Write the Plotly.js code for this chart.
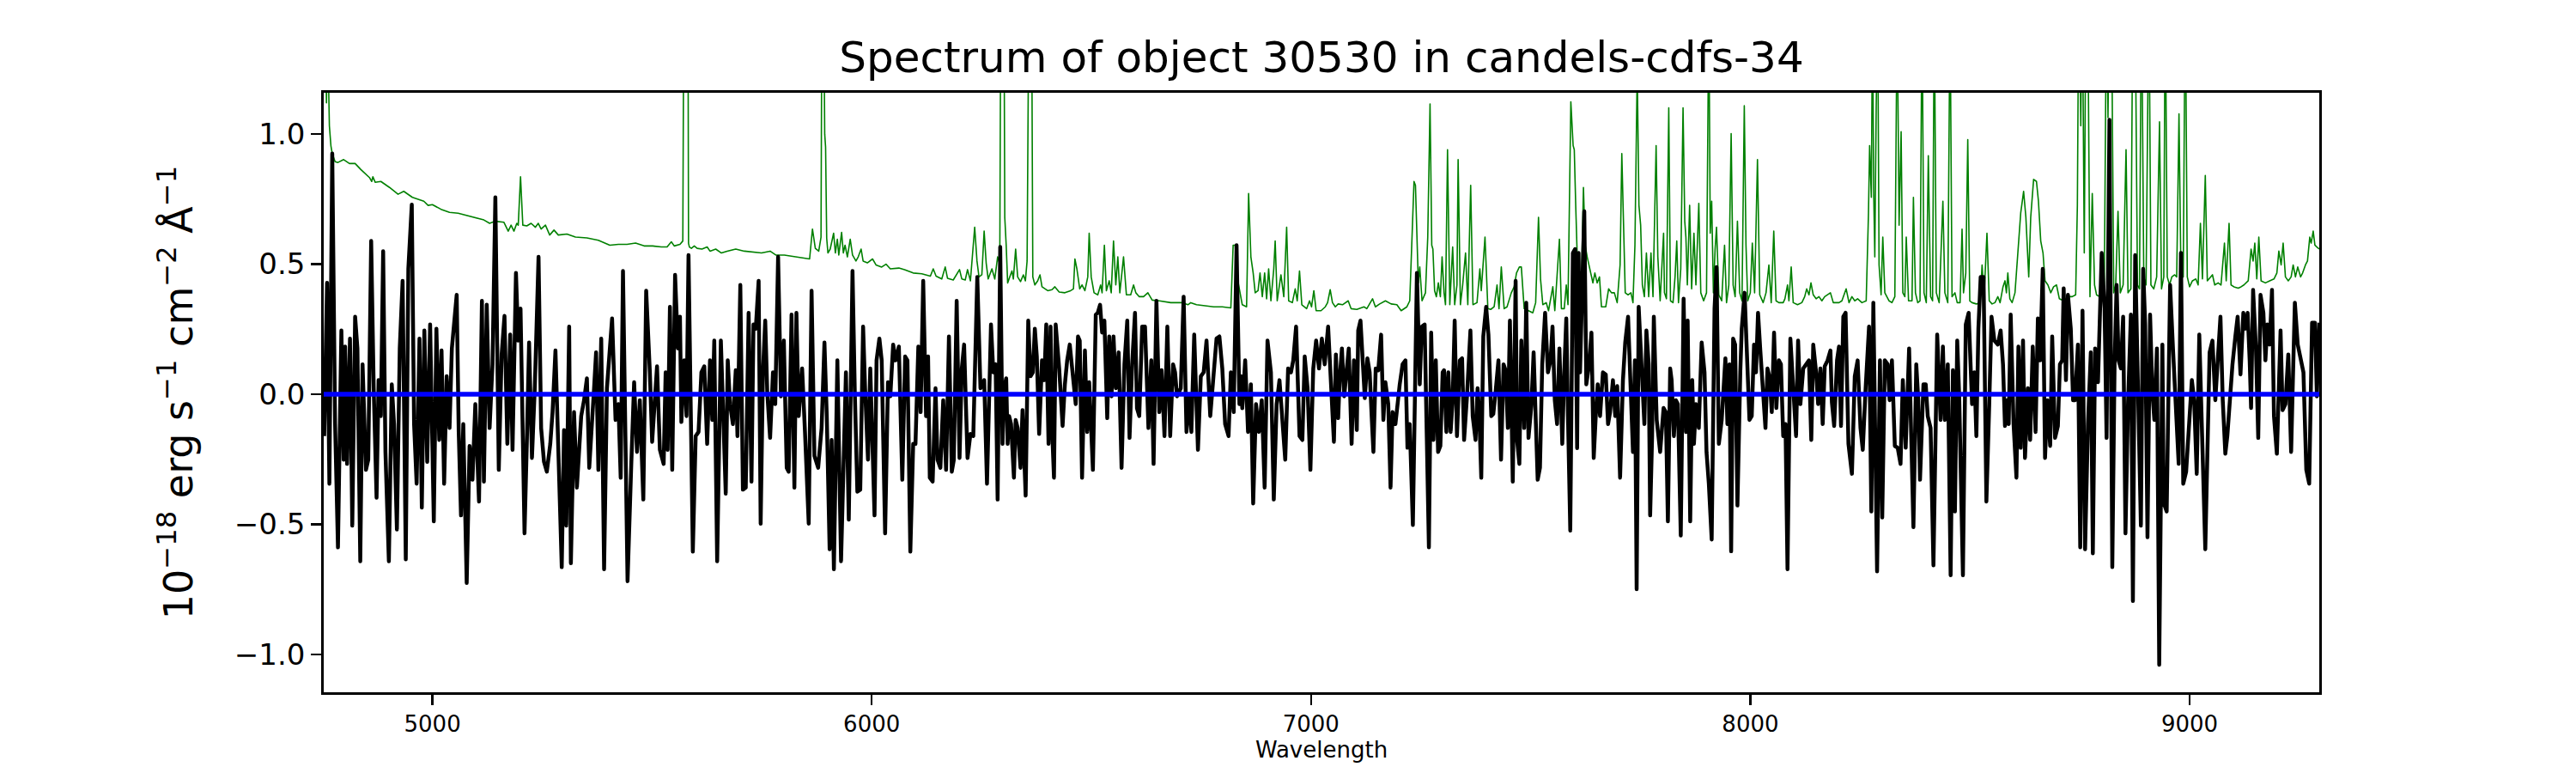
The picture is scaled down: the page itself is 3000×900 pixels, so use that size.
<!DOCTYPE html>
<html>
<head>
<meta charset="utf-8">
<script src="https://cdn.plot.ly/plotly-3.0.1.min.js"></script>
<style>
  html, body { margin: 0; padding: 0; background: #ffffff; }
  #chart { width: 3000px; height: 900px; }
  .js-line { stroke-linejoin: round; }
</style>
</head>
<body>
<div id="chart"></div>
<script>
// ---- Data ----
const titleText = "Spectrum of object 30530 in candels-cdfs-34";
const xLabel = "Wavelength";
const yLabel = "10<sup>\u221218</sup> erg s<sup>\u22121</sup> cm<sup>\u22122</sup> \u00C5<sup>\u22121</sup>";
const xTicks = [5000, 6000, 7000, 8000, 9000];
const yTicks = [-1.0, -0.5, 0.0, 0.5, 1.0];

// observed flux (black)
const fluxWave = [
4753.7,4760.2,4765.5,4772.0,4778.5,4785.0,4792.8,4798.0,4801.3,4805.8,4812.4,4817.6,4824.1,4829.3,4835.8,4841.0,4848.8,4854.0,4860.6,4866.4,
4872.9,4877.5,4882.7,4887.9,4893.1,4900.9,4907.5,4912.7,4919.2,4925.7,4932.2,4939.4,4945.2,4953.1,4958.3,4964.1,4970.6,4975.9,4981.7,4988.2,
4994.8,5003.2,5009.1,5015.6,5020.8,5026.7,5032.5,5039.0,5044.3,5055.3,5059.9,5065.1,5070.3,5078.1,5084.6,5091.2,5097.7,5106.1,5112.7,5117.2,
5123.7,5130.2,5136.8,5143.3,5151.1,5157.6,5164.1,5170.6,5177.1,5182.4,5190.2,5195.4,5200.6,5209.7,5214.9,5220.1,5226.6,5233.2,5241.6,5247.5,
5254.0,5260.5,5268.3,5273.5,5280.1,5286.6,5294.4,5299.6,5304.8,5311.3,5315.2,5322.4,5328.9,5338.7,5345.2,5351.7,5357.0,5368.0,5372.6,5377.8,
5384.3,5390.8,5397.3,5409.0,5416.9,5423.4,5428.6,5433.8,5444.2,5452.7,5459.2,5465.7,5472.2,5480.1,5486.6,5495.0,5500.2,5511.3,5517.8,
5526.4,5530.9,5535.5,5540.7,5545.9,5552.4,5558.9,5563.5,5566.7,5573.3,5578.5,5583.0,5592.8,5599.3,5605.8,5612.3,5618.9,5625.4,5631.9,5637.1,
5641.6,5648.2,5656.6,5661.8,5667.7,5672.3,5677.5,5684.0,5690.5,5694.4,5700.9,5706.8,5713.3,5719.8,5726.3,5730.9,5736.1,5742.6,5747.2,5752.4,
5757.6,5762.2,5768.7,5775.2,5780.4,5786.9,5793.4,5800.0,5806.5,5811.0,5817.5,5824.0,5828.6,5833.8,5841.6,5848.1,5856.6,5863.1,5869.6,5878.1,
5885.9,5892.4,5897.7,5904.2,5908.7,5913.9,5921.8,5930.2,5934.8,5941.3,5947.8,5956.3,5961.5,5967.3,5973.9,5980.4,5984.9,5991.5,5996.7,6006.4,
6011.0,6017.5,6022.7,6030.5,6037.0,6042.3,6048.8,6054.0,6061.8,6069.6,6076.1,6081.3,6087.9,6094.4,6099.6,6106.1,6111.3,6117.2,6123.7,6128.3,
6132.2,6138.7,6145.2,6149.8,6156.3,6162.8,6169.3,6175.8,6182.3,6186.9,6193.4,6199.9,6205.1,6210.3,6218.1,6224.7,6231.2,6240.3,6247.5,6256.0,
6262.4,6271.5,6276.8,6282.0,
6286.6,6292.5,6297.7,6301.6,6306.1,6309.4,6312.7,6317.2,6323.7,6327.6,6332.2,6338.7,6343.3,6350.4,6356.3,6361.5,6366.7,6371.3,6375.8,6381.1,
6387.6,6392.8,6397.3,6402.5,6407.1,6411.0,6414.9,6418.8,6426.7,6434.5,6439.7,6444.9,6450.8,6457.9,6464.4,6469.6,6473.5,6478.8,6485.3,6490.5,
6495.0,6503.5,6510.0,6514.6,6519.8,6524.4,6529.6,6536.1,6540.6,6545.9,6550.4,6555.6,6562.1,6568.7,6575.2,6581.7,6586.9,6592.8,6599.3,6603.8,
6609.0,6615.6,6622.1,6629.9,6636.4,6641.6,6648.1,6654.6,6659.9,6666.4,6672.9,6679.4,6685.9,6690.5,6695.0,6703.5,6710.0,6716.5,6723.0,6727.6,
6734.1,6742.6,6749.1,6755.6,6762.1,6770.6,6778.4,6784.9,6791.4,6798.0,6804.5,6812.3,6817.5,6824.0,6830.5,6837.0,6840.3,6843.5,6850.1,6856.6,
6863.1,6868.3,6874.8,6881.3,6887.8,6894.4,6900.9,6908.7,6915.2,6921.7,6928.2,6934.7,6941.3,6947.8,6954.3,6959.5,6966.0,6973.8,6980.3,6985.6,
6992.1,6998.6,7005.1,7011.6,7018.1,7024.6,7031.1,7038.9,
7047.5,7052.1,7056.6,7061.8,7065.1,7070.3,7075.5,7080.7,7085.9,7092.4,7097.7,7104.2,7107.4,7112.6,7117.2,7122.4,7128.3,7133.5,7138.0,7142.0,
7147.2,7153.0,7159.5,7164.7,7169.3,7175.8,7181.0,7185.6,7192.1,7196.7,7201.9,7208.4,7214.9,7219.5,7224.7,7231.8,7237.7,7241.0,7247.5,7252.0,
7258.6,7262.5,7268.3,7273.5,7278.7,7284.0,7289.2,7294.4,7299.6,7302.8,7308.1,7312.6,7317.8,7322.4,7327.0,7332.2,7338.7,7343.9,7348.4,7355.0,
7362.8,7368.0,7374.5,7379.1,7383.0,7387.5,7392.1,7398.6,7403.8,7410.3,7414.9,7420.1,7426.6,7432.5,7438.3,7442.9,7448.1,7452.7,7459.2,7465.7,
7469.0,7474.2,7478.7,7485.2,7489.8,7495.0,7501.5,7506.7,7511.3,7515.9,7521.1,7526.3,7532.8,7539.3,7545.2,7549.7,7554.9,7560.1,7565.4,7571.9,
7576.4,7581.0,7584.9,7590.1,7596.0,7601.2,7605.7,7609.0,7612.3,7617.5,7622.0,7626.6,7633.1,7638.3,7643.5,7648.1,7652.6,7657.9,7664.4,7670.9,
7676.1,7680.7,7687.2,7692.4,7696.9,7703.5,7710.0,7715.2,7721.7,7728.2,7732.8,7737.3,7741.2,7745.8,7752.3,7758.8,7763.4,7768.6,7771.9,7776.4,
7780.3,7786.8,7794.7,
7802.5,7807.7,7812.3,7817.5,7820.8,7826.0,7830.5,7835.1,7841.6,7848.1,7853.6,7857.3,7863.1,7867.7,7871.6,7876.1,7882.7,7889.2,7895.7,7900.2,
7905.5,7912.0,7918.5,7923.0,7928.3,7934.8,7939.3,7943.2,7947.8,7952.4,7956.3,7960.8,7965.4,7970.6,7977.1,7980.4,7986.9,7993.4,7998.0,8003.2,
8008.4,8012.9,8017.5,8022.7,8027.9,8034.4,8039.0,8044.2,8048.8,8054.0,8059.2,8065.0,8069.6,8074.8,8080.0,8084.6,8091.1,8097.6,8104.1,8108.7,
8113.9,8120.4,8126.9,8133.4,8138.7,8143.2,8149.7,8154.3,8159.5,8164.7,8169.3,8175.8,8182.3,8185.6,8190.8,8197.3,8201.8,8206.4,8211.6,8216.8,
8223.3,8231.2,8237.7,8244.2,8250.7,8255.9,8262.4,8270.2,8275.4,8280.0,8288.5,8295.0,8300.2,8306.1,8312.6,8317.1,8322.3,8328.9,8335.4,8341.9,
8347.1,8353.6,8361.4,8366.6,8371.2,8377.7,8382.3,8386.2,8394.0,8399.2,8403.8,8410.3,8416.8,8425.3,8433.1,8438.3,8442.8,8449.4,8455.9,8461.1,
8465.7,8470.9,8475.4,8483.9,8490.4,8496.9,8504.7,8509.9,8514.5,8519.1,8524.3,8530.8,8537.3,8543.8,8549.0,8555.5,8563.4,8569.8,8575.1,
8579.6,8584.2,8588.1,8592.6,8599.2,8605.7,8610.2,8615.4,8620.7,8625.2,8631.7,8636.9,8642.8,8649.3,8654.5,8659.7,8665.6,8670.8,8676.0,8682.5,
8687.1,8693.6,8700.1,8704.7,8709.9,8713.2,8718.4,8722.9,8729.4,8734.6,8739.2,8745.7,8750.9,8756.1,8762.0,8768.5,8775.0,8779.6,8784.8,8791.3,
8799.8,8806.3,8810.9,8817.4,8823.9,8829.1,8833.7,8838.2,8843.4,8848.6,8853.9,8859.7,8866.2,8870.8,8876.0,8882.5,8889.0,8894.2,8898.8,8904.0,
8909.9,8915.1,8919.6,8925.5,8930.7,8937.9,8941.1,8947.7,8955.5,8962.0,8967.2,8975.0,8980.2,8985.4,8992.0,8998.5,9005.0,9010.2,9016.1,9021.9,
9027.1,9035.6,9045.4,9051.9,9058.4,9064.9,9070.1,9075.3,9081.2,9085.7,9090.9,9097.5,9104.0,9109.2,9115.7,9122.2,9126.8,9132.0,9136.6,9139.8,
9144.4,9150.9,9156.1,9161.3,9167.8,9172.4,9176.9,9182.2,9187.4,9191.9,9198.5,9206.9,9211.5,9218.0,9224.5,9231.0,9234.3,9239.5,9246.0,9252.5,
9259.0,9265.5,9272.1,9278.6,9285.1,9289.6,9295.0
];
const fluxValue = [
-0.161,0.428,-0.344,0.925,-0.115,-0.589,0.245,-0.252,0.183,-0.268,0.214,-0.505,0.298,0.176,-0.642,0.115,-0.291,-0.252,0.589,0.023,
-0.398,0.054,-0.084,0.550,-0.222,-0.642,0.038,-0.115,-0.520,0.176,0.436,-0.635,0.482,0.729,-0.115,-0.344,0.214,-0.436,0.245,-0.260,
0.268,-0.489,0.252,-0.176,0.168,-0.344,0.069,-0.130,0.176,0.382,-0.145,-0.466,-0.115,-0.726,-0.199,-0.329,-0.038,-0.413,0.359,-0.336,
0.344,-0.130,0.115,0.757,-0.291,0.153,0.301,-0.191,0.229,-0.214,0.466,0.206,0.329,-0.535,-0.191,0.199,-0.245,0.031,0.528,-0.130,
-0.260,-0.298,-0.191,-0.069,0.168,-0.191,-0.665,-0.138,-0.505,0.260,-0.650,-0.069,-0.359,-0.084,-0.023,0.061,-0.283,0.023,0.161,-0.291,
0.214,-0.673,0.023,0.291,-0.099,-0.038,-0.321,0.474,-0.719,-0.268,0.046,-0.222,-0.023,-0.405,0.398,0.084,-0.183,0.107,-0.214,
-0.268,0.084,-0.214,0.336,-0.291,0.459,0.176,0.298,-0.107,0.130,-0.084,0.535,-0.605,-0.161,-0.145,0.084,0.107,-0.191,0.130,-0.099,
0.206,-0.642,0.206,-0.130,-0.382,0.130,-0.038,-0.115,0.092,-0.161,0.420,-0.367,-0.359,0.313,-0.336,0.268,0.252,0.436,-0.498,0.084,
0.283,0.008,-0.168,0.084,-0.038,0.528,-0.008,0.206,-0.283,-0.298,0.306,-0.359,0.313,-0.084,0.099,-0.145,-0.498,0.398,-0.237,-0.283,
-0.130,0.199,-0.084,-0.596,-0.176,-0.673,0.130,-0.642,-0.283,0.084,-0.482,0.474,0.008,-0.375,-0.367,0.260,0.023,-0.252,0.099,-0.466,
0.130,0.214,0.130,-0.535,0.046,-0.008,0.191,0.130,0.183,-0.329,0.145,0.130,-0.605,-0.191,-0.191,0.183,-0.069,0.436,-0.084,0.145,
-0.321,-0.336,0.023,-0.252,-0.283,-0.023,-0.291,0.222,-0.298,-0.252,0.359,-0.245,0.099,0.191,-0.245,-0.153,-0.161,0.451,0.023,0.054,
-0.344,0.268,0.084,0.115,
-0.405,0.566,-0.191,0.023,0.061,-0.191,-0.084,-0.115,-0.321,-0.099,-0.130,-0.283,-0.061,-0.390,0.283,0.069,0.084,0.252,0.145,-0.153,
0.130,0.054,0.268,-0.191,0.260,-0.153,-0.321,0.268,0.099,-0.122,0.038,0.130,0.191,0.084,-0.038,0.222,0.206,-0.321,0.168,-0.145,
0.046,-0.291,0.306,0.313,0.344,0.237,0.283,-0.092,0.222,-0.008,0.222,0.023,0.161,-0.283,0.115,0.283,-0.168,0.115,0.313,-0.054,
-0.084,0.260,0.260,-0.130,0.130,-0.268,0.359,-0.069,0.092,-0.161,0.260,-0.161,0.115,0.084,-0.008,0.023,0.375,-0.145,-0.008,-0.145,
0.229,-0.214,0.069,0.084,0.206,-0.084,0.069,0.214,0.222,0.099,-0.115,-0.161,0.084,-0.069,0.573,-0.038,0.069,-0.054,0.130,-0.145,
0.038,-0.420,-0.038,-0.145,-0.023,-0.359,0.206,0.084,-0.405,-0.038,0.054,-0.084,-0.252,0.099,0.084,0.130,0.260,-0.161,-0.176,0.145,
0.023,-0.291,0.099,0.206,0.099,0.214,0.115,0.260,
-0.084,-0.183,0.153,-0.092,0.054,0.176,-0.008,0.084,0.176,-0.191,0.130,-0.138,0.245,0.283,0.130,-0.015,0.138,0.084,-0.084,-0.222,
0.099,0.092,0.229,-0.099,0.046,-0.038,-0.359,-0.069,-0.115,-0.023,0.038,0.115,0.130,-0.206,-0.115,-0.503,0.176,0.466,0.038,0.260,
0.268,-0.038,-0.589,0.237,-0.176,0.130,-0.222,-0.199,0.084,0.092,-0.145,0.084,-0.145,-0.023,0.283,-0.161,0.130,0.138,-0.176,-0.008,
0.245,-0.084,-0.176,0.023,-0.076,-0.321,0.222,0.336,0.229,-0.084,-0.076,0.008,0.130,-0.252,0.115,0.092,-0.130,0.283,-0.336,0.436,
-0.176,-0.268,0.206,-0.130,0.352,-0.168,-0.046,0.161,-0.130,-0.329,-0.283,0.115,0.313,0.084,0.130,0.260,-0.023,-0.115,0.176,-0.191,
0.084,0.291,-0.084,-0.524,0.543,0.558,-0.207,0.543,0.084,0.489,0.703,0.038,0.115,0.237,-0.245,-0.084,0.038,-0.084,0.084,0.076,
-0.115,-0.069,0.054,-0.084,0.031,-0.321,0.054,0.199,0.298,-0.008,-0.222,0.130,-0.750,0.336,0.130,-0.115,0.245,0.115,-0.466,-0.161,
0.298,-0.099,-0.222,
-0.053,-0.069,-0.489,0.099,0.054,-0.161,-0.023,-0.038,-0.543,0.367,-0.145,0.283,-0.489,0.054,-0.191,-0.038,-0.130,0.199,0.084,-0.222,
-0.344,-0.559,0.329,0.489,-0.191,-0.099,0.069,0.138,-0.115,0.115,-0.604,0.214,0.191,-0.428,0.084,0.252,0.390,0.115,-0.099,-0.084,
0.191,0.084,0.313,0.168,0.054,-0.130,0.099,0.061,-0.069,0.237,-0.053,0.130,0.115,-0.161,-0.115,-0.673,0.214,-0.008,-0.161,0.206,
-0.038,0.099,0.115,0.130,-0.176,0.191,0.084,-0.038,0.099,-0.115,0.107,0.130,0.168,-0.031,-0.122,0.130,0.183,-0.122,0.298,0.313,
-0.191,-0.306,0.069,0.130,-0.130,-0.214,0.023,0.260,-0.451,0.352,-0.681,0.130,-0.474,0.130,0.115,-0.023,0.130,-0.199,-0.206,-0.268,
0.054,-0.206,0.176,-0.283,-0.511,0.115,-0.023,-0.329,0.038,0.038,-0.084,-0.130,-0.658,0.229,-0.099,0.183,-0.099,0.115,-0.696,0.092,
-0.451,0.206,-0.008,-0.696,0.268,0.313,-0.038,0.084,-0.161,0.252,0.451,0.451,-0.413,-0.038,0.298,0.206,0.191,0.245,0.115,
-0.122,-0.023,-0.115,0.306,-0.115,-0.321,0.183,-0.206,0.206,-0.245,0.023,-0.176,0.183,-0.145,0.291,0.130,0.482,-0.245,-0.023,-0.199,
0.222,-0.168,-0.122,0.115,0.130,0.407,0.054,0.382,0.252,-0.023,-0.023,0.191,-0.589,0.321,-0.596,-0.115,0.161,-0.612,0.176,0.046,
0.543,0.329,-0.168,1.055,-0.665,0.115,0.420,0.130,0.099,0.298,-0.535,-0.038,0.306,-0.795,0.535,0.046,-0.505,0.482,0.268,-0.550,
0.306,0.008,-0.099,0.176,-1.040,0.191,-0.419,-0.451,0.420,0.176,0.008,-0.268,0.543,-0.344,-0.298,-0.099,0.054,-0.023,-0.306,0.229,
-0.130,-0.596,0.161,0.206,-0.023,0.176,0.298,-0.023,-0.229,-0.161,-0.023,0.115,0.222,0.298,0.076,0.313,0.252,0.313,0.130,-0.053,
0.401,0.176,-0.168,0.382,0.313,0.130,0.268,0.191,0.401,-0.084,-0.229,0.245,-0.061,-0.038,0.153,-0.222,0.008,0.352,0.191,0.130,
0.084,-0.291,-0.344,0.275,0.275,-0.008,0.275
];

// flux uncertainty / sky (green)
const errWave = [
4752.6,4756.5,4758.9,4760.5,4762.5,4765.5,4769.0,4772.0,4778.5,4785.0,4798.0,4811.1,4824.1,4837.1,4856.7,4861.9,4864.5,4869.7,4882.7,4902.3,
4921.8,4934.8,4954.4,4964.1,4980.4,4990.2,5000.0,5019.5,5039.0,5058.6,5078.1,5097.7,5117.2,5130.2,5143.3,5162.8,5172.6,5179.1,5185.6,5192.1,
5195.4,5200.6,5205.8,5214.9,5224.7,5234.5,5241.0,5247.5,5257.3,5267.0,5276.8,5286.6,5306.1,5325.7,5351.7,5377.8,5403.8,5423.4,5442.9,5462.5,
5482.0,5501.5,
5521.1,5534.2,5543.9,5550.5,5563.5,5570.0,5573.3,5577.0,5580.5,5583.0,5585.0,5589.5,5596.1,5602.6,5613.6,5625.4,5631.9,5644.9,5657.9,5670.9,
5690.5,5710.0,5729.6,5749.1,5768.7,5781.7,5801.2,5827.3,5858.6,5865.1,5871.6,5879.4,5884.6,5888.0,5891.0,5893.0,5895.0,5897.5,5900.3,5905.5,
5913.3,5917.2,5921.8,5925.0,5931.5,5935.4,5939.3,5944.6,5951.1,5956.3,5964.1,5969.3,5975.8,5980.4,5990.1,6001.9,6009.7,6022.7,6032.5,6042.3,
6061.8,6074.8,6094.4,6113.9,6133.5,6140.0,6146.5,6159.5,6167.3,6172.5,6185.6,6199.9,6205.1,6212.9,6218.1,6224.7,6234.4,6239.6,6244.2,6250.7,
6255.9,6260.5,6265.1,
6267.1,6273.6,6280.1,6286.6,6291.5,6293.5,6297.0,6300.0,6302.9,6306.1,6309.4,6315.9,6319.2,6322.4,6327.6,6332.2,6338.7,6345.2,6349.8,6353.7,
6357.5,6361.5,6364.8,6366.7,6371.3,6377.8,6383.0,6387.6,6400.6,6410.4,6416.9,6426.7,6439.7,6452.7,6459.2,6462.5,6467.0,6473.5,6478.8,6485.3,
6491.8,6495.0,6499.6,6506.1,6514.6,6521.1,6524.4,6529.6,6534.1,6540.6,6545.2,6550.4,6555.6,6560.2,6564.8,6573.2,6579.7,6589.5,6596.0,6601.2,
6609.0,6618.8,6628.6,6638.4,6654.6,6667.7,6680.7,6693.7,6706.8,6719.8,6726.3,6739.3,6758.9,6778.4,6798.0,6817.5,6822.7,6827.3,6831.8,6837.0,
6843.5,6853.3,6857.9,6863.1,6868.3,6872.9,6879.4,6883.9,6889.1,6894.4,6898.9,6903.5,6908.7,6915.2,6918.4,6923.0,6931.5,6938.0,6944.5,6949.1,
6957.5,6964.0,6968.6,6973.8,6979.0,6990.1,6996.6,7001.2,7006.4,7011.6,7022.7,
7032.5,7037.7,7043.6,7048.8,7055.3,7061.8,7071.6,7084.6,7091.1,7104.2,7120.5,7127.0,7140.0,7146.5,7156.3,7169.3,7182.3,7195.4,7205.1,7218.2,
7224.7,7229.2,7234.4,7237.7,7241.0,7244.2,7247.5,7252.7,7260.5,7265.7,7270.9,7274.8,7277.4,7281.3,7285.3,7289.8,7294.4,7298.3,7302.8,7306.1,
7310.7,7315.9,7322.4,7327.0,7332.2,7334.8,7340.0,7345.2,7351.7,7356.9,7363.4,7368.6,7377.8,7384.3,7387.5,7396.0,7402.5,7409.0,7416.8,7423.4,
7427.9,7433.1,7439.6,7446.2,7455.9,7462.4,7467.7,7474.2,7478.7,7485.2,7495.0,7504.8,7511.3,7517.8,7522.4,7527.6,7535.4,7540.6,7550.4,7554.9,
7565.4,7569.9,7576.4,7581.0,7584.9,7591.4,7596.6,7599.2,7602.5,7605.7,7611.0,7615.5,7620.1,7624.0,7628.6,7635.1,7641.6,7646.1,7651.3,7656.6,
7661.1,7670.9,7677.4,7683.9,7690.4,7696.9,7703.5,7707.4,7711.3,7715.2,7721.7,7728.2,7732.8,7737.3,7742.5,7746.4,7750.3,7754.2,7758.8,7763.4,
7768.6,7773.8,7778.4,7785.5,7789.4,7794.7,7802.5,
7804.5,7809.0,7814.3,7818.2,7824.0,7828.6,7832.5,7836.4,7841.6,7846.8,7850.7,7853.3,7856.6,7861.8,7866.4,7871.6,7876.1,7882.7,7887.2,7893.7,
7900.2,7905.5,7908.7,7912.0,7915.9,7919.8,7923.0,7928.3,7934.8,7941.3,7945.8,7951.0,7956.3,7960.8,7965.4,7970.6,7975.8,7981.0,7986.2,7990.1,
7994.0,7999.9,8004.5,8009.7,8016.2,8021.4,8029.2,8035.7,8042.2,8047.5,8053.3,8058.5,8065.0,8074.8,8078.7,8084.6,8087.8,8093.0,8097.6,8107.4,
8117.2,8123.7,8128.2,8133.4,8138.0,8143.2,8149.7,8156.2,8162.8,8169.3,8175.8,8182.3,8188.8,8201.8,8208.4,8218.1,8224.6,8231.2,8237.7,8244.2,
8254.0,8263.7,8268.9,8271.5,8275.4,8278.1,8280.7,8283.3,8286.5,8289.8,8293.0,8297.6,8301.5,8306.1,8315.8,8322.3,8328.9,8334.1,8338.6,8343.2,
8347.1,8351.7,8354.9,8360.1,8368.0,8371.2,8375.8,8381.0,8386.2,8390.8,8395.3,8400.5,8405.1,8410.3,8414.8,8418.7,8423.3,8429.8,8438.3,8442.8,
8449.4,8454.6,8459.1,8465.7,8470.9,8477.4,8481.9,8485.2,8490.4,8494.9,8499.5,8504.7,8514.5,8523.0,8527.5,8532.1,8538.6,8543.8,8550.3,8556.8,
8563.4,
8568.5,8575.1,8579.6,8582.9,8586.1,8590.7,8595.9,8602.4,8608.9,8615.4,8622.0,8627.2,8633.7,8638.2,8644.8,8651.3,8655.8,8661.0,8666.2,8670.8,
8677.3,8683.8,8690.3,8696.9,8703.4,8713.2,8722.9,8732.7,8740.5,8744.4,8747.7,8752.2,8755.5,8760.1,8764.0,8768.5,8773.1,8778.3,8783.5,8788.1,
8794.6,8801.1,8805.6,8810.9,8814.1,8817.4,8822.6,8827.1,8831.7,8836.9,8842.1,8848.6,8855.2,8859.7,8866.2,8870.8,8876.0,8881.2,8885.8,8890.3,
8895.5,8900.8,8907.3,8911.8,8918.3,8924.9,8931.4,8935.9,8941.1,8944.4,8949.0,8954.2,8959.4,8965.9,8970.5,8975.7,8980.2,8985.4,8990.0,8994.6,
8999.8,9006.3,9014.1,9019.3,9024.5,9029.1,9035.6,9040.2,9051.9,9057.1,9064.9,9071.4,9079.2,9083.2,9089.7,9094.2,9100.7,9110.5,9117.0,9123.5,
9133.3,9139.8,9144.4,9148.3,9152.8,9157.4,9162.6,9172.4,9182.2,9191.9,9198.5,9203.0,9208.2,9212.8,9218.0,9224.5,9231.0,9235.6,9240.8,9246.0,
9252.5,9257.1,9263.6,9268.2,9273.4,9276.6,9281.2,9285.1,9289.6,9295.0
];
const errValue = [
1.60,1.40,1.12,1.40,1.30,1.032,0.955,0.925,0.894,0.891,0.902,0.887,0.887,0.864,0.833,0.818,0.836,0.815,0.818,0.795,
0.769,0.780,0.757,0.752,0.742,0.726,0.729,0.711,0.699,0.696,0.688,0.680,0.670,0.657,0.665,0.661,0.627,0.650,0.627,0.657,
0.650,0.836,0.650,0.647,0.657,0.642,0.657,0.635,0.650,0.612,0.631,0.612,0.616,0.604,0.601,0.592,0.573,0.576,0.576,0.581,
0.570,0.570,
0.566,0.566,0.586,0.570,0.576,0.589,2.50,3.50,2.50,0.580,0.566,0.561,0.570,0.561,0.558,0.566,0.550,0.558,0.543,0.550,
0.558,0.550,0.546,0.543,0.550,0.535,0.535,0.528,0.520,0.635,0.561,0.550,0.604,2.20,1.60,1.00,0.95,0.600,0.543,0.558,
0.619,0.543,0.596,0.535,0.622,0.543,0.573,0.528,0.596,0.535,0.512,0.528,0.558,0.512,0.505,0.520,0.497,0.489,0.500,0.482,
0.485,0.479,0.466,0.463,0.454,0.482,0.454,0.443,0.489,0.446,0.439,0.479,0.443,0.439,0.479,0.436,0.642,0.512,0.451,0.459,
0.627,0.505,0.443,
0.451,0.482,0.443,0.528,0.500,2.50,3.00,2.00,0.679,0.573,0.428,0.459,0.474,0.443,0.558,0.451,0.433,0.459,0.436,0.512,
2.20,2.50,1.20,0.451,0.420,0.436,0.459,0.413,0.398,0.402,0.413,0.393,0.390,0.398,0.405,0.520,0.482,0.405,0.420,0.398,
0.451,0.619,0.451,0.390,0.382,0.420,0.390,0.573,0.398,0.436,0.390,0.589,0.420,0.528,0.390,0.528,0.382,0.382,0.420,0.390,
0.375,0.375,0.390,0.362,0.359,0.356,0.352,0.352,0.352,0.344,0.352,0.344,0.341,0.336,0.336,0.332,0.573,0.573,0.451,0.398,
0.344,0.336,0.772,0.528,0.466,0.390,0.398,0.466,0.375,0.466,0.367,0.482,0.359,0.482,0.589,0.359,0.459,0.375,0.642,0.359,
0.352,0.405,0.359,0.474,0.344,0.329,0.359,0.336,0.398,0.321,0.321,
0.336,0.352,0.402,0.352,0.336,0.347,0.344,0.359,0.329,0.326,0.336,0.329,0.367,0.336,0.347,0.359,0.347,0.344,0.321,0.336,
0.359,0.573,0.818,0.803,0.573,0.428,0.489,0.359,0.390,0.604,1.116,0.573,0.558,0.398,0.375,0.428,0.375,0.528,0.390,0.344,
0.940,0.344,0.566,0.344,0.420,0.902,0.344,0.420,0.543,0.344,0.803,0.344,0.352,0.482,0.398,0.604,0.329,0.326,0.336,0.420,
0.329,0.489,0.329,0.336,0.390,0.413,0.466,0.489,0.489,0.329,0.321,0.313,0.352,0.680,0.443,0.344,0.352,0.321,0.413,0.321,
0.596,0.329,0.329,0.420,0.344,1.124,0.956,0.940,0.726,0.543,0.451,0.420,0.795,0.573,0.528,0.482,0.428,0.466,0.428,0.451,
0.336,0.336,0.405,0.390,0.390,0.352,0.497,0.925,0.604,0.390,0.382,0.390,0.352,0.573,1.25,0.726,0.650,0.420,0.375,0.543,
0.375,0.543,0.375,0.956,0.528,0.359,0.619,
0.390,0.367,1.101,0.359,0.352,0.451,0.589,0.352,0.482,1.101,0.665,0.604,0.420,0.726,0.405,0.619,0.420,0.734,0.390,0.359,
0.390,1.50,0.619,0.742,0.390,0.558,0.642,0.382,0.359,0.573,0.352,0.420,1.002,0.420,0.375,0.665,0.390,0.359,1.109,0.573,
0.359,0.390,0.581,0.390,0.902,0.382,0.352,0.390,0.497,0.352,0.627,0.359,0.352,0.352,0.367,0.420,0.359,0.489,0.352,0.344,
0.352,0.375,0.405,0.382,0.428,0.382,0.367,0.375,0.359,0.375,0.382,0.390,0.352,0.352,0.359,0.405,0.352,0.375,0.359,0.367,
0.352,0.359,0.696,0.956,0.757,1.50,0.787,0.528,1.109,1.50,0.497,0.382,0.604,0.390,0.359,0.352,0.375,1.50,0.650,1.009,
0.390,0.375,0.604,0.359,0.359,0.757,0.390,0.352,0.359,1.50,0.390,0.352,0.917,0.375,0.359,1.50,0.390,0.352,0.742,0.390,
0.352,1.50,0.375,0.390,0.352,0.352,0.635,0.390,0.466,0.979,0.359,0.352,0.347,0.352,0.497,0.375,0.619,0.359,0.347,0.352,
0.375,
0.352,0.413,0.436,0.390,0.466,0.367,0.352,0.390,0.543,0.696,0.780,0.680,0.451,0.680,0.826,0.818,0.742,0.589,0.543,0.436,
0.420,0.390,0.413,0.420,0.367,0.359,0.375,0.375,0.382,0.726,1.60,1.032,1.60,0.543,1.60,1.40,0.375,0.772,0.420,0.382,
0.375,0.420,0.390,1.60,1.063,1.60,1.40,0.390,0.420,0.703,0.390,0.420,0.940,0.390,0.405,1.60,1.50,0.420,0.405,1.60,
0.451,0.420,1.60,0.420,0.405,0.451,1.047,0.405,0.451,1.60,0.451,0.420,0.451,0.459,0.451,1.078,0.451,0.451,1.60,0.451,
0.413,0.436,0.443,0.420,0.657,0.443,0.841,0.436,0.459,0.420,0.428,0.420,0.581,0.436,0.657,0.420,0.413,0.408,0.413,0.420,
0.436,0.558,0.512,0.581,0.443,0.604,0.436,0.428,0.436,0.443,0.466,0.550,0.497,0.581,0.451,0.436,0.451,0.497,0.451,0.489,
0.451,0.466,0.497,0.512,0.604,0.581,0.627,0.573,0.566,0.558
];

// zero-level model (blue)
const zeroWave = [4752.6, 9295.0];
const zeroValue = [0.0, 0.0];

const xRange = [4752.6, 9295.0];
const yRange = [-1.146, 1.159];

const font = "DejaVu Sans";

const traces = [
  { x: errWave, y: errValue, type: "scatter", mode: "lines",
    line: { color: "#008000", width: 1.6 }, hoverinfo: "skip", showlegend: false },
  { x: fluxWave, y: fluxValue, type: "scatter", mode: "lines",
    line: { color: "#000000", width: 4.5 }, hoverinfo: "skip", showlegend: false },
  { x: zeroWave, y: zeroValue, type: "scatter", mode: "lines",
    line: { color: "#0000ff", width: 5.5 }, hoverinfo: "skip", showlegend: false }
];

const layout = {
  width: 3000, height: 900,
  paper_bgcolor: "#ffffff", plot_bgcolor: "#ffffff",
  margin: { l: 377, r: 299, t: 108, b: 94, pad: 0 },
  showlegend: false,
  font: { family: font, color: "#000000" },
  title: {
    text: titleText,
    font: { family: font, size: 50, color: "#000000" },
    x: 0.5, xref: "paper", xanchor: "center",
    y: 1 - 66 / 900, yref: "container", yanchor: "middle"
  },
  xaxis: {
    range: xRange, tickvals: xTicks, tickformat: "d",
    ticks: "outside", ticklen: 12, tickwidth: 2.5, tickcolor: "#000000",
    tickfont: { family: font, size: 26, color: "#000000" },
    showline: true, linewidth: 2.8, linecolor: "#000000", mirror: true,
    showgrid: false, zeroline: false, automargin: false,
    title: { text: xLabel, font: { family: font, size: 26, color: "#000000" }, standoff: 7 }
  },
  yaxis: {
    range: yRange, tickvals: yTicks, tickformat: ".1f",
    ticks: "outside", ticklen: 12, tickwidth: 2.5, tickcolor: "#000000",
    tickfont: { family: font, size: 34, color: "#000000" },
    showline: true, linewidth: 2.8, linecolor: "#000000", mirror: true,
    showgrid: false, zeroline: false, automargin: false,
    title: { text: yLabel, font: { family: font, size: 46, color: "#000000" }, standoff: 34 }
  }
};

Plotly.newPlot("chart", traces, layout, { staticPlot: true, displayModeBar: false });
</script>
</body>
</html>
